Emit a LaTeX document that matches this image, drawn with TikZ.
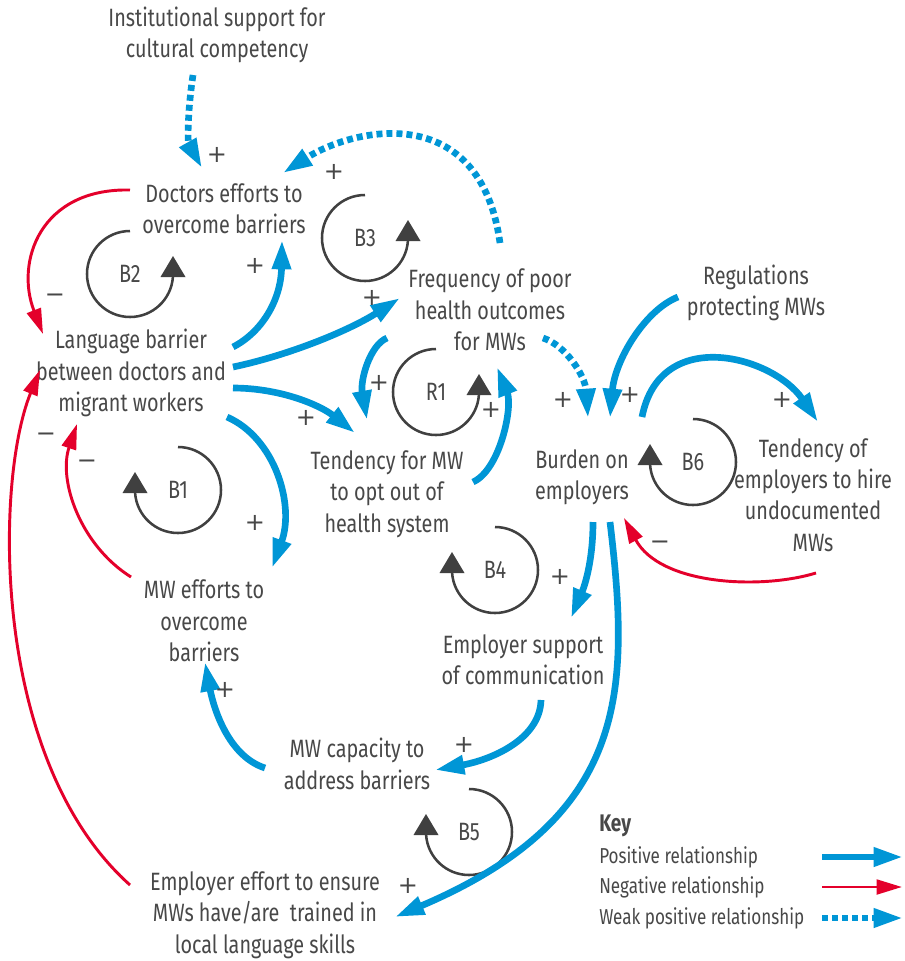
\documentclass[tikz,border=0pt]{standalone}
\usepackage{fontspec}
\setmainfont{Fira Sans}[FakeStretch=0.79]
\newfontfamily\signfont{DejaVu Sans}[FakeStretch=1.0]
\usetikzlibrary{arrows.meta}
\definecolor{cblue}{RGB}{0,150,214}
\definecolor{cred}{RGB}{228,0,43}
\definecolor{ink}{RGB}{72,72,72}
\definecolor{loopink}{RGB}{64,64,64}

\begin{document}
\begin{tikzpicture}[x=0.75pt,y=-0.75pt,
  lbl/.style={align=center, text=ink, inner sep=0pt, font=\fontsize{18.8}{23.6}\selectfont},
  sgn/.style={text=ink, inner sep=0pt, font=\signfont\fontsize{18}{20}\selectfont},
  keytxt/.style={anchor=west, text=ink, inner sep=0pt, font=\fontsize{16.2}{18}\selectfont},
  posrel/.style={draw=cblue, line width=5pt, -{Triangle[length=22pt,width=13.5pt]}},
  negrel/.style={draw=cred, line width=2.2pt, -{Triangle[length=19pt,width=11pt]}},
  weakrel/.style={posrel, dash pattern=on 4.5pt off 3pt},
  loopline/.style={draw=loopink, line width=1.9pt},
  pics/loopright/.style={code={
     \draw[loopline] (270:43) arc[start angle=270,end angle=4,radius=43];
     \fill[loopink] (30.5,3) -- (55.5,3) -- (43,-18) -- cycle;
     \node[lbl] at (0,0) {#1};}},
  pics/loopleft/.style={code={
     \draw[loopline] (270:43) arc[start angle=270,end angle=536,radius=43];
     \fill[loopink] (-30.5,3) -- (-55.5,3) -- (-43,-18) -- cycle;
     \node[lbl] at (0,0) {#1};}},
]
\fill[white] (0,0) rectangle (904,961);
\useasboundingbox (0,0) rectangle (904,961);

% variables
\node[lbl] (inst) at (217,35) {Institutional support for\\cultural competency};
\node[lbl] (doc) at (224,209) {Doctors efforts to\\overcome barriers};
\node[lbl] (freq) at (490,310) {Frequency of poor\\health outcomes\\for MWs};
\node[lbl] (reg) at (756,293) {Regulations\\protecting MWs};
\node[lbl] (lang) at (131,373) {Language barrier\\between doctors and\\migrant workers};
\node[lbl] (tmw) at (387,494) {Tendency for MW\\to opt out of\\health system};
\node[lbl] (burd) at (582,477) {Burden on\\employers};
\node[lbl] (temp) at (813,495) {Tendency of\\employers to hire\\undocumented\\MWs};
\node[lbl] (mwe) at (204,621) {MW efforts to\\overcome\\barriers};
\node[lbl] (esup) at (523,660) {Employer support\\of communication};
\node[lbl] (cap) at (357,764) {MW capacity to\\address barriers};
\node[lbl] (eff) at (265,915) {Employer effort to ensure\\MWs have/are\ \ trained in\\local language skills};

% feedback loops
\pic at (130,274) {loopright=B2};
\pic at (365,238) {loopright=B3};
\pic at (436,392) {loopright=R1};
\pic at (178,490) {loopleft=B1};
\pic at (495,570) {loopleft=B4};
\pic at (469,832) {loopleft=B5};
\pic at (693,462) {loopleft=B6};

% causal links
\draw[weakrel] ([shift={(-24,40)}]inst.center) .. controls +(-6,40) and +(-14,-25) .. ([shift={(-22,-41)}]doc.center);
\draw[weakrel] ([shift={(10,-67)}]freq.center) .. controls +(-20,-144) and +(70,-45) .. ([shift={(59,-36)}]doc.center);
\draw[negrel] ([shift={(-94,-19)}]doc.center) .. controls +(-90,-2) and +(-28,-72) .. ([shift={(-88,-39)}]lang.center);
\draw[posrel] ([shift={(102,-26)}]lang.center) .. controls +(29,-15) and +(-1,60) .. ([shift={(58,31)}]doc.center);
\draw[posrel] ([shift={(102,-6)}]lang.center) .. controls +(57,-12) and +(-50,32) .. ([shift={(-90,-12)}]freq.center);
\draw[posrel] ([shift={(102,15)}]lang.center) .. controls +(47,0) and +(-35,-28) .. ([shift={(-32,-61)}]tmw.center);
\draw[posrel] ([shift={(-103,28)}]freq.center) .. controls +(-17,7) and +(-7,-40) .. ([shift={(-20,-74)}]tmw.center);
\draw[posrel] ([shift={(86,-12)}]tmw.center) .. controls +(27,-12) and +(16,40) .. ([shift={(7,57)}]freq.center);
\draw[posrel] ([shift={(96,44)}]lang.center) .. controls +(48,21) and +(23,-63) .. ([shift={(68,-53)}]mwe.center);
\draw[negrel] ([shift={(-73,-44)}]mwe.center) .. controls +(-51,-32) and +(-19,56) .. ([shift={(-54,51)}]lang.center);
\draw[negrel] ([shift={(-135,-30)}]eff.center) .. controls +(-140,-125) and +(-45,110) .. ([shift={(-91,-3)}]lang.center);
\draw[weakrel] ([shift={(53,28)}]freq.center) .. controls +(22,7) and +(-3,-43) .. ([shift={(6,-59)}]burd.center);
\draw[posrel] ([shift={(-78,4)}]reg.center) .. controls +(-33,13) and +(5,-58) .. ([shift={(28,-59)}]burd.center);
\draw[posrel] ([shift={(60,-60)}]burd.center) .. controls +(18,-92) and +(-45,-66) .. ([shift={(5,-73)}]temp.center);
\draw[negrel] ([shift={(3,78)}]temp.center) .. controls +(-56,17) and +(36,67) .. ([shift={(42,41)}]burd.center);
\draw[posrel] ([shift={(11,45)}]burd.center) .. controls +(0,38) and +(14,-33) .. ([shift={(48,-42)}]esup.center);
\draw[posrel] ([shift={(28,45)}]burd.center) .. controls +(20,168) and +(235,-100) .. ([shift={(130,2)}]eff.center);
\draw[posrel] ([shift={(18,40)}]esup.center) .. controls +(-1,40) and +(55,-10) .. ([shift={(78,6)}]cap.center);
\draw[posrel] ([shift={(-92,4)}]cap.center) .. controls +(-40,-13) and +(7,38) .. ([shift={(1,41)}]mwe.center);

% polarity signs
\node[sgn] (s1) at (217,155) {+};
\node[sgn] (s2) at (334,172) {+};
\node[sgn] (s3) at (55,298) {−};
\node[sgn] (s4) at (255,266) {+};
\node[sgn] (s5) at (372,298) {+};
\node[sgn] (s6) at (306,418) {+};
\node[sgn] (s7) at (379,383) {+};
\node[sgn] (s8) at (491,410) {+};
\node[sgn] (s9) at (255,523) {+};
\node[sgn] (s10) at (87,464) {−};
\node[sgn] (s11) at (46,437) {−};
\node[sgn] (s12) at (563,400) {+};
\node[sgn] (s13) at (630,395) {+};
\node[sgn] (s14) at (782,400) {+};
\node[sgn] (s15) at (660,545) {−};
\node[sgn] (s16) at (560,577) {+};
\node[sgn] (s17) at (408,886) {+};
\node[sgn] (s18) at (464,745) {+};
\node[sgn] (s19) at (225,690) {+};

% key
\node[anchor=west, text=ink, inner sep=0pt, font=\fontsize{18}{20}\selectfont\bfseries] (keyt) at (599,826) {Key};
\node[keytxt] (k1) at (599,857) {Positive relationship};
\node[keytxt] (k2) at (599,887) {Negative relationship};
\node[keytxt] (k3) at (599,918) {Weak positive relationship};
\coordinate (k1a) at (822,857); \coordinate (k1b) at (903,857);
\coordinate (k2a) at (822,887); \coordinate (k2b) at (902,887);
\coordinate (k3a) at (822,918); \coordinate (k3b) at (903,918);
\draw[posrel] (k1a) -- (k1b);
\draw[negrel] (k2a) -- (k2b);
\draw[weakrel] (k3a) -- (k3b);
\end{tikzpicture}
\end{document}
